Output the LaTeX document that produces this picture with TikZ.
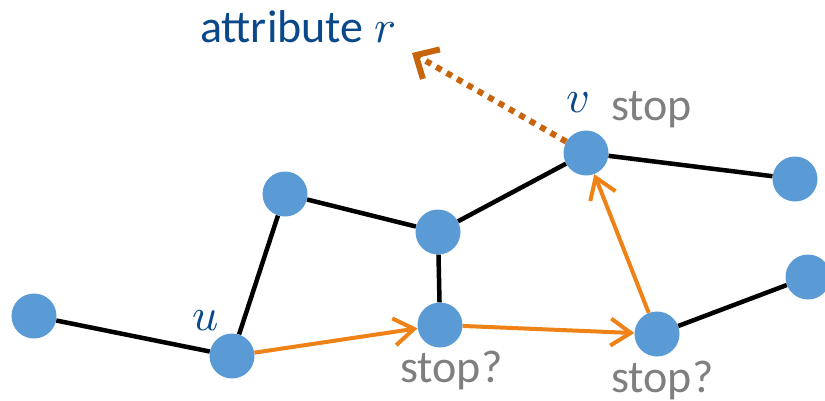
\documentclass[tikz,border=0pt]{standalone}
\usepackage{fontspec}
\usepackage{unicode-math}
\setmainfont{Carlito}
\setmathfont{Latin Modern Math}
\usetikzlibrary{arrows.meta}
\definecolor{nodeblue}{RGB}{91,155,213}
\definecolor{txtblue}{RGB}{10,72,138}
\definecolor{txtgray}{RGB}{127,127,127}
\definecolor{arrorange}{RGB}{238,130,22}
\definecolor{darkorange}{RGB}{200,100,12}
\tikzset{
  vert/.style={circle,fill=nodeblue,draw=none,minimum size=45pt,inner sep=0pt},
  edge/.style={draw=black,line width=4.5pt},
  walk/.style={draw=arrorange,line width=4pt,-{Straight Barb[length=20pt,width=27pt]}},
  attr/.style={draw=darkorange,line width=6pt,dash pattern=on 6pt off 6pt,-{Straight Barb[length=18pt,width=34pt,line width=6pt]}},
  lbl/.style={inner sep=0pt,anchor=base west,font=\fontsize{46}{50}\selectfont},
}
\begin{document}
\begin{tikzpicture}[x=1pt,y=-1pt]
\useasboundingbox (0,0) rectangle (825,400);
\node[vert] (n1) at (34,316) {};
\node[vert] (u)  at (232,356) {};
\node[vert] (n3) at (285,194) {};
\node[vert] (n4) at (438,232) {};
\node[vert] (n5) at (440,325) {};
\node[vert] (v)  at (586,153) {};
\node[vert] (n7) at (795,179) {};
\node[vert] (n8) at (657,334) {};
\node[vert] (n9) at (808,277) {};
\coordinate (rtip) at (412,53);
\draw[edge] (n1) -- (u);
\draw[edge] (u) -- (n3);
\draw[edge] (n3) -- (n4);
\draw[edge] (n4) -- (n5);
\draw[edge] (n4) -- (v);
\draw[edge] (v) -- (n7);
\draw[edge] (n8) -- (n9);
\draw[walk] (u) -- (n5);
\draw[walk] (n5) -- (n8);
\draw[walk] (n8) -- (v);
\draw[attr] (v) -- (rtip);
\node[lbl,text=txtblue] (tattr) at (200,42) {attribute $r$};
\node[lbl,text=txtblue] (tv) at (566,112) {$v$};
\node[lbl,text=txtgray] (tstop) at (611,120) {stop};
\node[lbl,text=txtblue] (tu) at (192,330) {$u$};
\node[lbl,text=txtgray] (ts1) at (400,382) {stop?};
\node[lbl,text=txtgray] (ts2) at (611,392) {stop?};
\end{tikzpicture}
\end{document}
